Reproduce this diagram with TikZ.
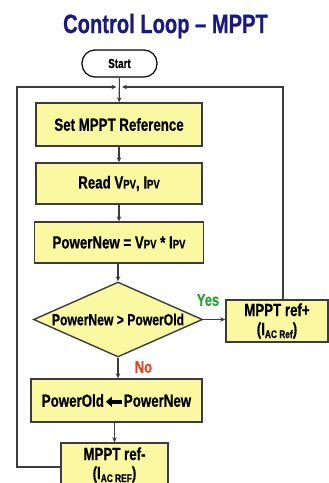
\documentclass[tikz,border=0pt]{standalone}
\usepackage{fontspec}
\setmainfont{Liberation Sans}[FakeStretch=0.76,FakeBold=0.6]
\usetikzlibrary{shapes.geometric,arrows.meta}
\definecolor{boxfill}{RGB}{250,248,160}
\definecolor{edgec}{RGB}{60,60,60}
\definecolor{navy}{RGB}{25,25,130}
\definecolor{yesgreen}{RGB}{40,160,50}
\definecolor{nored}{RGB}{225,70,30}
\newcommand{\subtxt}[1]{\raisebox{-3pt}{\fontsize{11}{11}\selectfont #1}}
\newcommand{\smcp}[1]{{\fontsize{12.5}{13}\selectfont #1}}
\tikzset{
  procbox/.style={draw=edgec, line width=1.4pt, fill=boxfill, inner sep=0pt,
    font=\fontsize{17.5}{19}\selectfont\bfseries, align=center},
  decbox/.style={diamond, draw=edgec, line width=1.4pt, fill=boxfill, inner sep=0pt,
    aspect=2.25, font=\fontsize{16}{18}\selectfont\bfseries},
  termbox/.style={draw=black, line width=1.2pt, fill=white, rounded corners=13pt,
    inner sep=0pt, font=\fontsize{13}{15}\selectfont\bfseries},
  flow/.style={draw=edgec, line width=1.1pt},
  tip/.style={-{Stealth[length=5pt,width=4.5pt]}},
  lbl/.style={font=\fontsize{17}{19}\selectfont\bfseries, inner sep=0pt},
}
\begin{document}
\begin{tikzpicture}[x=1pt,y=-1pt]
  \useasboundingbox (0,0) rectangle (329,483);
  \clip (0,0) rectangle (329,483);
  \node[anchor=base, text=navy, font=\fontsize{26.5}{28}\selectfont\bfseries] (title) at (165.5,33) {Control Loop – MPPT};

  \node[termbox, minimum width=75pt, minimum height=27pt] (start) at (119.5,63.5) {Start};
  \node[procbox, minimum width=166pt, minimum height=43pt] (set) at (119,124.5) {Set MPPT Reference};
  \node[procbox, minimum width=166pt, minimum height=41pt] (read) at (119,183.5) {Read V\smcp{PV}, I\smcp{PV}};
  \node[procbox, minimum width=169pt, minimum height=41pt] (pnew) at (119,242.5) {PowerNew = V\smcp{PV} * I\smcp{PV}};
  \node[decbox, minimum width=169pt, minimum height=75pt] (dec) at (118,319.5) {PowerNew > PowerOld};
  \node[procbox, minimum width=102pt, minimum height=42pt] (refp) at (277,321) {MPPT ref+\\(I\subtxt{AC Ref})};
  \node[procbox, minimum width=171pt, minimum height=43pt] (pold) at (116.5,400.5)
    {PowerOld\tikz[baseline=-5pt,x=1pt,y=1pt]\draw[line width=4pt,-{Triangle[length=6pt,width=10pt]}] (16,0)--(0,0);PowerNew};
  \node[procbox, minimum width=107pt, minimum height=44pt] (refm) at (114.5,465) {MPPT ref-\\(I\subtxt{AC REF})};

  \node[lbl, text=yesgreen] (yes) at (208,300) {Yes};
  \node[lbl, text=nored] (no) at (143.5,367) {No};

  \coordinate (topl) at (17,87);
  \coordinate (topr) at (283,87);
  \coordinate (jl) at (116.5,87);
  \coordinate (jr) at (122,87);

  \draw[flow,tip] (start) -- (set);
  \draw[flow,tip] (set) -- (read);
  \draw[flow,tip] (read) -- (read |- pnew.north);
  \draw[flow,tip] (dec.north |- pnew.south) -- (dec.north);
  \draw[flow,tip] (dec.east) -- (refp.west |- dec.east);
  \draw[flow,tip] (dec.south) -- (dec.south |- pold.north);
  \draw[flow,tip] (refm |- pold.south) -- (refm.north);
  \draw[flow,tip] ([yshift=-2pt]refm.west) -| (topl) -- (jl);
  \draw[flow,tip] (topr |- refp.north) -- (topr) -- (jr);
\end{tikzpicture}
\end{document}
